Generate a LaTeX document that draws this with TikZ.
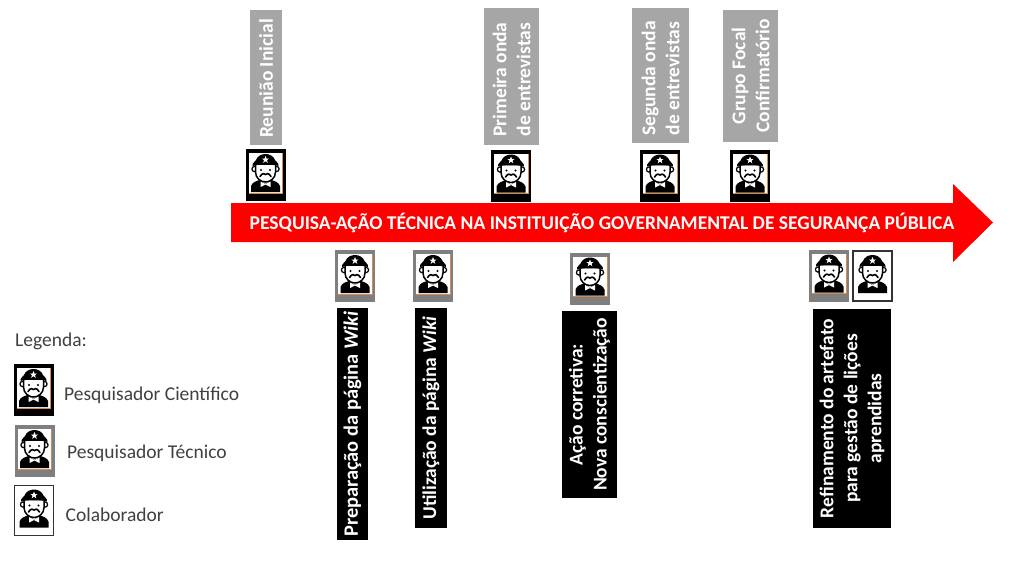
\documentclass[tikz,border=0pt]{standalone}
\usepackage{fontspec}
\setmainfont{Carlito}
\definecolor{boxgrey}{HTML}{A6A6A6}
\definecolor{frameg}{HTML}{7F7F7F}
\definecolor{legendg}{HTML}{404040}
\definecolor{arrowred}{HTML}{FF0000}
\definecolor{edgeor}{HTML}{D98A4A}
\tikzset{
  x=1pt,y=-1pt,
  vbox/.style={rotate=90,inner sep=0pt,align=center,font=\bfseries\fontsize{19.5}{24}\selectfont,text=white},
  greybox/.style={vbox,fill=boxgrey},
  blackbox/.style={vbox,fill=black},
  iconbox/.style={inner sep=0pt,minimum width=40pt,minimum height=52pt},
  sci/.style={iconbox,fill=black},
  tec/.style={iconbox,fill=frameg},
  col/.style={iconbox,fill=white,draw=black!80,line width=1.2pt,minimum width=39pt,minimum height=50pt},
  legendtext/.style={inner sep=0pt,anchor=west,text=legendg,font=\fontsize{19.5}{23}\selectfont},
  windowpane/.pic={
    \fill[white] (-17,-22) rectangle (17,18);
    \draw[edgeor,line width=.7pt] (17,-22) -- (17,18) -- (-17,18);
  },
  officer/.pic={
    % body
    \fill[black] (-14.5,17) -- (-14.5,11) .. controls (-13,7) and (-9,6) .. (-6,5) -- (0,9) -- (6,5) .. controls (9,6) and (13,7) .. (14.5,11) -- (14.5,17) -- cycle;
    % ears and face
    \draw[black,fill=white,line width=1.2pt] (-11,-6) circle[radius=2.6];
    \draw[black,fill=white,line width=1.2pt] (11,-6) circle[radius=2.6];
    \draw[black,fill=white,line width=1.5pt] (-10,-11) -- (-10,-3) .. controls (-10,3) and (-5,7) .. (0,7) .. controls (5,7) and (10,3) .. (10,-3) -- (10,-11) -- cycle;
    % collar
    \fill[white] (-5,6.5) -- (0,9) -- (5,6.5) -- (5,12) -- (0,9.5) -- (-5,12) -- cycle;
    % cap
    \fill[black] (-13,-9) .. controls (-14,-12) and (-10,-13) .. (-9.5,-15) .. controls (-8,-19) and (-4,-21) .. (0,-21) .. controls (4,-21) and (8,-19) .. (9.5,-15) .. controls (10,-13) and (14,-12) .. (13,-9) .. controls (7,-11) and (-7,-11) .. (-13,-9) -- cycle;
    \fill[white] (0,-19) -- (1,-16.5) -- (3.6,-16.5) -- (1.5,-14.8) -- (2.3,-12.2) -- (0,-13.8) -- (-2.3,-12.2) -- (-1.5,-14.8) -- (-3.6,-16.5) -- (-1,-16.5) -- cycle;
    % eyes and moustache
    \fill[black] (-4.5,-5) circle[radius=1.1] (4.5,-5) circle[radius=1.1];
    \draw[black,line width=1.6pt,line cap=round] (-5.5,1.5) .. controls (-3,-2.5) and (-1,-1.5) .. (0,-.5) .. controls (1,-1.5) and (3,-2.5) .. (5.5,1.5);
  }
}
\newcommand{\sciicon}[3]{\node[sci] (#1) at (#2,#3) {}; \pic at (#1) {windowpane}; \pic at (#1) {officer};}
\newcommand{\tecicon}[3]{\node[tec] (#1) at (#2,#3) {}; \pic at (#1) {windowpane}; \pic at (#1) {officer};}
\newcommand{\colicon}[3]{\node[col] (#1) at (#2,#3) {}; \pic at (#1) {officer};}
\begin{document}
\begin{tikzpicture}
\useasboundingbox (0,0) rectangle (1010,560);
% grey boxes
\node[greybox,minimum width=135pt,minimum height=32pt] (g1) at (266,77.5) {Reunião Inicial\hspace*{2pt}};
\node[greybox,minimum width=137pt,minimum height=55pt] (g2) at (511.5,76.5) {Primeira onda\hspace*{6pt}\\de entrevistas\hspace*{6pt}};
\node[greybox,minimum width=135pt,minimum height=57pt] (g3) at (660.5,75.5) {Segunda onda\hspace*{6pt}\\de entrevistas\hspace*{6pt}};
\node[greybox,minimum width=132pt,minimum height=55pt] (g4) at (750.5,76) {Grupo Focal\\Confirmatório};
% top icons
\sciicon{t1}{265.5}{175}
\sciicon{t2}{511}{175.5}
\sciicon{t3}{660}{175.5}
\sciicon{t4}{750}{175.5}
% arrow
\fill[arrowred] (231,203) -- (953,203) -- (953,184) -- (993,222.5) -- (953,262) -- (953,242) -- (231,242) -- cycle;
\node[inner sep=0pt,text=white,font=\bfseries\fontsize{19.5}{23}\selectfont] (title) at (602,222.5) {PESQUISA-AÇÃO TÉCNICA NA INSTITUIÇÃO GOVERNAMENTAL DE SEGURANÇA PÚBLICA};
% bottom icons
\tecicon{b1}{355}{276}
\tecicon{b2}{433}{276}
\tecicon{b3}{590}{278.5}
\tecicon{b4}{829}{275.5}
\colicon{b5}{872.5}{276}
% black boxes
\node[blackbox,minimum width=232pt,minimum height=31pt,font=\bfseries\fontsize{20.4}{24}\selectfont] (k1) at (352.5,424) {Preparação da página \textit{Wiki}};
\node[blackbox,minimum width=220pt,minimum height=32pt] (k2) at (431,418) {Utilização da página \textit{Wiki}};
\node[blackbox,minimum width=187pt,minimum height=55pt] (k3) at (589.5,404.5) {Ação corretiva:\\Nova conscientização};
\node[blackbox,minimum width=219pt,minimum height=78pt] (k4) at (852,418.5) {Refinamento do artefato\\para gestão de lições\\aprendidas};
% legend
\node[legendtext] (lt) at (15,341) {Legenda:};
\sciicon{l1}{33.5}{390}
\tecicon{l2}{34.5}{451}
\colicon{l3}{34}{510.5}
\node[legendtext] (lt1) at (64,395) {Pesquisador Científico};
\node[legendtext] (lt2) at (67,453.5) {Pesquisador Técnico};
\node[legendtext] (lt3) at (65.5,515) {Colaborador};
\end{tikzpicture}
\end{document}
